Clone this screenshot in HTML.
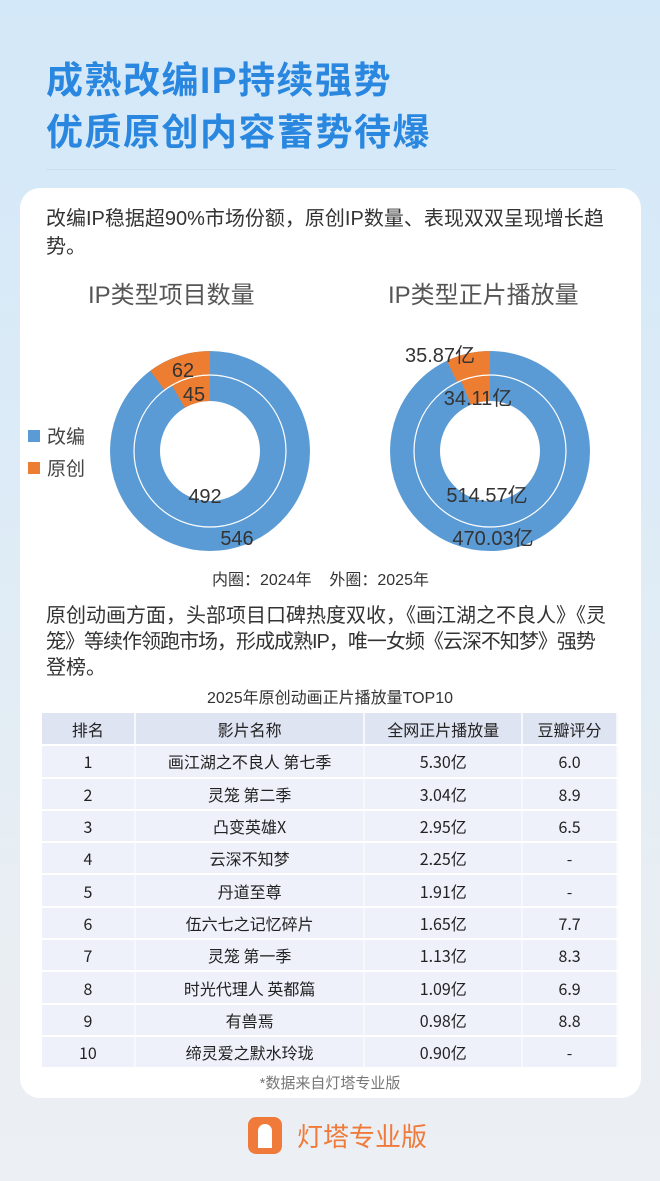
<!DOCTYPE html>
<html><head><meta charset="utf-8"><style>
*{margin:0;padding:0;box-sizing:border-box}
body{width:660px;height:1181px;overflow:hidden;font-family:"Liberation Sans","Noto Sans CJK SC",sans-serif;background:linear-gradient(180deg,#d3e8f8 0%,#dcebf7 40%,#e8eef3 75%,#eceff3 100%);position:relative}
.t{position:absolute;white-space:nowrap}
.title{left:46px;font-size:37px;font-weight:bold;color:#2a87e0;letter-spacing:1.5px}
.card{position:absolute;left:20px;top:188px;width:621px;height:910px;background:#fff;border-radius:20px}
.p{left:46px;font-size:20px;color:#333}
table{position:absolute;left:42px;top:713px;width:576px;border-collapse:collapse;font-size:16px;color:#222;font-family:"Noto Sans CJK SC",sans-serif}
td{height:32.3px;text-align:center;vertical-align:middle;line-height:20px;background:#eef1fa;border-bottom:2px solid #fff;border-right:2px solid #f6f8fc}
tr:first-child td{background:#dfe4f2}
</style></head><body>
<div class="t title" style="top:50px">成熟改编IP持续强势</div>
<div class="t title" style="top:102px">优质原创内容蓄势待爆</div>
<div style="position:absolute;left:46px;top:169px;width:570px;height:1px;background:#c8dff2"></div>
<div class="card"></div>
<div class="t p" style="top:202px">改编IP稳据超90%市场份额，原创IP数量、表现双双呈现增长趋</div>
<div class="t p" style="top:230px">势。</div>
<div class="t" style="left:88px;top:275px;font-size:24px;color:#555">IP类型项目数量</div>
<div class="t" style="left:388px;top:275px;font-size:24px;color:#555">IP类型正片播放量</div>
<svg style="position:absolute;left:0;top:0" width="660" height="600">
<g fill="none">
<circle cx="210" cy="451" r="88" stroke="#5b9bd5" stroke-width="24"/>
<circle cx="210" cy="451" r="63" stroke="#5b9bd5" stroke-width="26"/>
<circle cx="210" cy="451" r="88" stroke="#ed7d31" stroke-width="24" stroke-dasharray="56.4 600" transform="rotate(-126.7 210 451)"/>
<circle cx="210" cy="451" r="63" stroke="#ed7d31" stroke-width="26" stroke-dasharray="33.2 600" transform="rotate(-120.2 210 451)"/>
<circle cx="210" cy="451" r="76" stroke="#fff" stroke-width="1.2"/>
<circle cx="490" cy="451" r="88" stroke="#5b9bd5" stroke-width="24"/>
<circle cx="490" cy="451" r="63" stroke="#5b9bd5" stroke-width="26"/>
<circle cx="490" cy="451" r="88" stroke="#ed7d31" stroke-width="24" stroke-dasharray="39.2 600" transform="rotate(-115.5 490 451)"/>
<circle cx="490" cy="451" r="63" stroke="#ed7d31" stroke-width="26" stroke-dasharray="24.6 600" transform="rotate(-112.4 490 451)"/>
<circle cx="490" cy="451" r="76" stroke="#fff" stroke-width="1.2"/>
</g>
<g font-size="20" fill="#333" font-family="Liberation Sans, Noto Sans CJK SC, sans-serif" text-anchor="middle">
<text x="183" y="377">62</text><text x="194" y="401">45</text>
<text x="205" y="503">492</text><text x="237" y="545">546</text>
<text x="440" y="362">35.87亿</text><text x="478" y="405">34.11亿</text>
<text x="487" y="502">514.57亿</text><text x="493" y="545">470.03亿</text>
</g>
<rect x="28" y="430" width="12" height="12" fill="#5b9bd5"/>
<rect x="28" y="462" width="12" height="12" fill="#ed7d31"/>
<g font-size="19" fill="#444" font-family="Liberation Sans, Noto Sans CJK SC, sans-serif">
<text x="47" y="443">改编</text><text x="47" y="475">原创</text>
</g>
</svg>
<div class="t" style="left:212px;top:566px;font-size:16px;color:#333">内圈：2024年&nbsp;&nbsp;&nbsp;&nbsp;外圈：2025年</div>
<div class="t p" style="top:599px">原创动画方面，头部项目口碑热度双收，《画江湖之不良人》《灵</div>
<div class="t p" style="top:625px;letter-spacing:-1px">笼》等续作领跑市场，形成成熟IP，唯一女频《云深不知梦》强势</div>
<div class="t p" style="top:651px">登榜。</div>
<div class="t" style="left:0;width:660px;text-align:center;top:684px;font-size:16px;color:#333">2025年原创动画正片播放量TOP10</div>
<table>
<tr><td style="width:93px">排名</td><td style="width:230px">影片名称</td><td style="width:158px">全网正片播放量</td><td style="width:95px">豆瓣评分</td></tr>
<tr><td>1</td><td>画江湖之不良人 第七季</td><td>5.30亿</td><td>6.0</td></tr>
<tr><td>2</td><td>灵笼 第二季</td><td>3.04亿</td><td>8.9</td></tr>
<tr><td>3</td><td>凸变英雄X</td><td>2.95亿</td><td>6.5</td></tr>
<tr><td>4</td><td>云深不知梦</td><td>2.25亿</td><td>-</td></tr>
<tr><td>5</td><td>丹道至尊</td><td>1.91亿</td><td>-</td></tr>
<tr><td>6</td><td>伍六七之记忆碎片</td><td>1.65亿</td><td>7.7</td></tr>
<tr><td>7</td><td>灵笼 第一季</td><td>1.13亿</td><td>8.3</td></tr>
<tr><td>8</td><td>时光代理人 英都篇</td><td>1.09亿</td><td>6.9</td></tr>
<tr><td>9</td><td>有兽焉</td><td>0.98亿</td><td>8.8</td></tr>
<tr><td>10</td><td>缔灵爱之默水玲珑</td><td>0.90亿</td><td>-</td></tr>
</table>
<div class="t" style="left:0;width:660px;text-align:center;top:1072px;font-size:15px;color:#777">*数据来自灯塔专业版</div>
<div style="position:absolute;left:248px;top:1117px;width:34px;height:37px;border-radius:8px;background:#f07a3a"></div>
<div style="position:absolute;left:258px;top:1124px;width:14px;height:24px;background:#fff;border-radius:7px 7px 0 0"></div>
<div class="t" style="left:297px;top:1117px;font-size:26px;color:#f07a3a">灯塔专业版</div>
</body></html>
